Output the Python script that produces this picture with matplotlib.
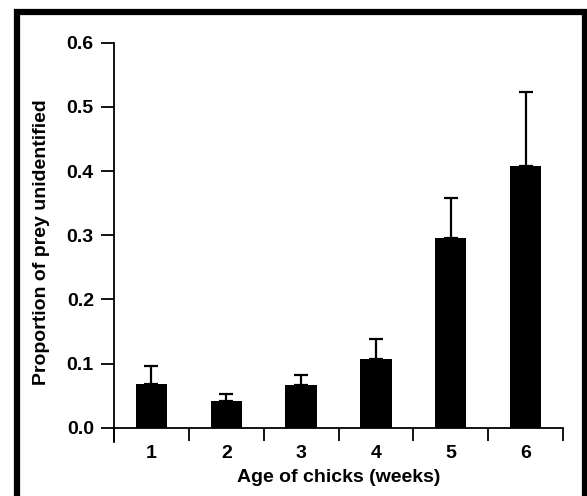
import matplotlib
matplotlib.use("Agg")
import matplotlib.pyplot as plt
import matplotlib.patches as patches
import numpy as np

# ── Data: proportion of prey items that could not be identified ──────────────
weeks = ["1", "2", "3", "4", "5", "6"]
prop_unidentified = [0.069, 0.042, 0.067, 0.107, 0.295, 0.408]
prop_se = [0.028, 0.011, 0.016, 0.032, 0.063, 0.115]
y_ticks = [0.0, 0.1, 0.2, 0.3, 0.4, 0.5, 0.6]

plt.rcParams.update({
    "font.family": ["Liberation Sans", "DejaVu Sans"],
    "font.weight": "bold",
    "axes.labelweight": "bold",
    "axes.linewidth": 1.3,
})

fig = plt.figure(figsize=(5.87, 4.96), dpi=100)
ax = fig.add_axes([114 / 587, 54 / 496, (563 - 114) / 587, (442 - 42.7) / 496])

x = np.arange(len(weeks))
lower = np.zeros(len(prop_se))
ax.bar(x, prop_unidentified, width=0.42, color="black", edgecolor="none", zorder=2)
ax.errorbar(x, prop_unidentified, yerr=[lower, prop_se], fmt="none",
            ecolor="black", elinewidth=1.6, capsize=5, capthick=1.6, zorder=3)

ymin = -0.022
ax.set_xlim(-0.5, len(weeks) - 0.5)
ax.set_ylim(ymin, 0.6)

# spines: y axis runs past zero, x axis sits on zero
ax.spines["top"].set_visible(False)
ax.spines["right"].set_visible(False)
ax.spines["bottom"].set_position(("data", 0))
ax.spines["left"].set_bounds(ymin, 0.6)

ax.set_yticks(y_ticks)
ax.set_yticklabels([f"{v:.1f}" for v in y_ticks], fontsize=14)
ax.tick_params(axis="y", direction="out", length=9.5, width=1.3, pad=5)

# category labels centred, tick marks between categories
ax.set_xticks(x)
ax.set_xticklabels(weeks, fontsize=14)
ax.set_xticks(np.arange(len(weeks) + 1) - 0.5, minor=True)
ax.tick_params(axis="x", which="major", length=0, pad=12)
ax.tick_params(axis="x", which="minor", direction="out", length=9, width=1.3)

ax.set_xlabel("Age of chicks (weeks)", fontsize=14, labelpad=5.5)
ax.set_ylabel("Proportion of prey unidentified", fontsize=14, labelpad=12)

# heavy frame around the whole figure
frame = patches.Rectangle((16.5 / 587, -0.05), (585 - 16.5) / 587, 0.05 + 1 - 12 / 496,
                          transform=fig.transFigure, fill=False,
                          edgecolor="black", linewidth=4.5, clip_on=False)
fig.add_artist(frame)

fig.savefig("out.png", dpi=100, facecolor="white")
